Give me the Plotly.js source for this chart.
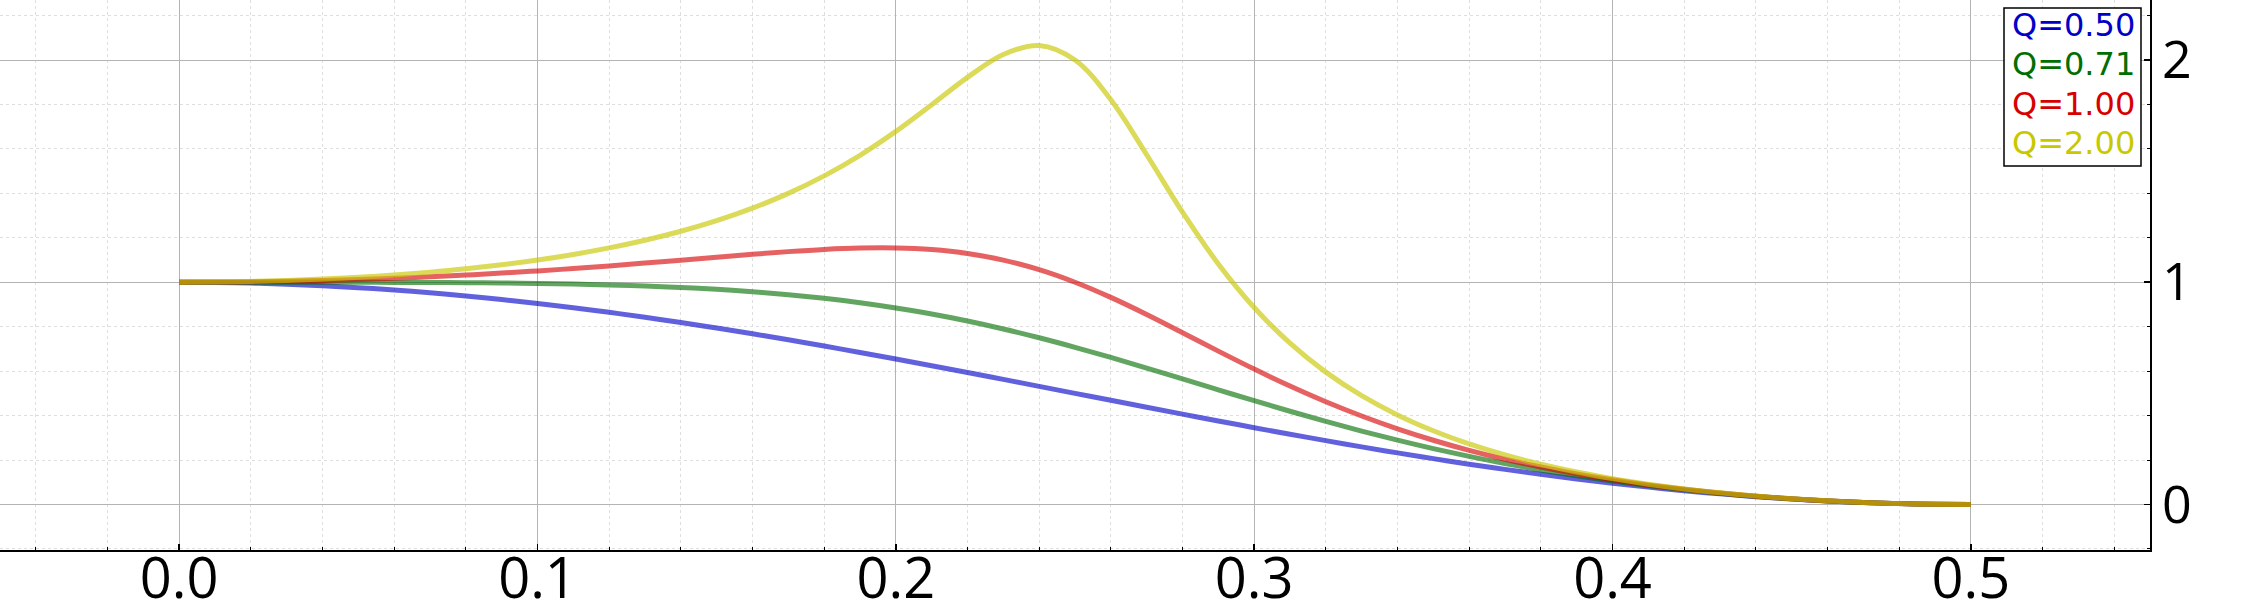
<!DOCTYPE html>
<html>
<head>
<meta charset="utf-8">
<script src="https://cdn.plot.ly/plotly-3.0.1.min.js"></script>
<style>html,body{margin:0;padding:0;background:#fff;}#chart{width:2250px;height:600px;}</style>
</head>
<body>
<div id="chart"></div>
<script>
// normalized frequency (fraction of sample rate)
const freq = [0,0.01,0.02,0.03,0.04,0.05,0.06,0.07,0.08,0.09,0.10,0.11,0.12,0.13,0.14,0.15,0.16,0.17,0.18,0.19,0.20,0.21,0.22,0.23,0.24,0.25,0.26,0.27,0.28,0.29,0.30,0.31,0.32,0.33,0.34,0.35,0.36,0.37,0.38,0.39,0.40,0.41,0.42,0.43,0.44,0.45,0.46,0.47,0.48,0.49,0.50];

const magQ050 = [1,0.9990,0.9961,0.9911,0.9843,0.9755,0.9649,0.9524,0.9381,0.9221,0.9045,0.8853,0.8645,0.8423,0.8187,0.7939,0.7679,0.7409,0.7129,0.6841,0.6545,0.6244,0.5937,0.5627,0.5314,0.5000,0.4686,0.4374,0.4063,0.3757,0.3455,0.3159,0.2871,0.2591,0.2321,0.2061,0.1813,0.1577,0.1355,0.1147,0.0955,0.0779,0.0619,0.0476,0.0351,0.0245,0.0157,0.0089,0.0039,0.0010,0];
const magQ071 = [1,1.0000,1.0000,1.0000,0.9999,0.9997,0.9993,0.9988,0.9978,0.9965,0.9945,0.9917,0.9879,0.9829,0.9764,0.9680,0.9573,0.9440,0.9275,0.9078,0.8842,0.8569,0.8253,0.7897,0.7500,0.7071,0.6615,0.6138,0.5648,0.5156,0.4668,0.4193,0.3735,0.3301,0.2894,0.2513,0.2162,0.1841,0.1549,0.1285,0.1050,0.0842,0.0658,0.0499,0.0364,0.0251,0.0160,0.0089,0.0040,0.0010,0];
const magQ100 = [1,1.0005,1.0020,1.0045,1.0080,1.0125,1.0180,1.0246,1.0323,1.0411,1.0509,1.0616,1.0735,1.0861,1.0992,1.1126,1.1257,1.1377,1.1475,1.1536,1.1541,1.1468,1.1294,1.0997,1.0566,1.0000,0.9317,0.8548,0.7729,0.6900,0.6092,0.5328,0.4621,0.3979,0.3402,0.2889,0.2434,0.2034,0.1683,0.1375,0.1109,0.0879,0.0681,0.0512,0.0371,0.0254,0.0161,0.0090,0.0040,0.0010,0];
const magQ200 = [1,1.0009,1.0035,1.0079,1.0141,1.0224,1.0327,1.0454,1.0606,1.0788,1.1000,1.1250,1.1545,1.1890,1.2295,1.2772,1.3334,1.3999,1.4786,1.5712,1.6787,1.7987,1.9220,2.0247,2.0654,2.0000,1.8213,1.5737,1.3154,1.0823,0.8861,0.7257,0.5955,0.4896,0.4030,0.3316,0.2723,0.2227,0.1810,0.1457,0.1161,0.0911,0.0699,0.0522,0.0376,0.0257,0.0162,0.0090,0.0040,0.0010,0];

const seriesLabels = ['Q=0.50','Q=0.71','Q=1.00','Q=2.00'];
const seriesValues = [magQ050, magQ071, magQ100, magQ200];
const lineColors = ['rgba(0,0,200,0.62)','rgba(0,110,0,0.62)','rgba(215,0,0,0.62)','rgba(200,200,0,0.65)'];
const textColors = ['#0000c8','#006e00','#d70000','#c8c800'];

const traces = seriesValues.map((vals, i) => ({
  type: 'scatter', mode: 'lines', name: seriesLabels[i],
  x: freq, y: vals,
  line: {color: lineColors[i], width: 5, shape: 'spline', smoothing: 1},
  showlegend: false, hoverinfo: 'skip'
}));

// plot area geometry (px) used for placing the legend box
const plotW = 2150, plotH = 550;
const boxL = 2004, boxR = 2141, boxT = 8, boxB = 166;
const rowTop = 25, rowStep = 39.3, rowCx = 2073;

const legendAnnotations = seriesLabels.map((t, i) => ({
  xref: 'paper', yref: 'paper',
  x: rowCx / plotW, y: 1 - (rowTop + i * rowStep) / plotH,
  xanchor: 'center', yanchor: 'middle', showarrow: false,
  text: t, font: {family: 'DejaVu Sans', size: 32, color: textColors[i]}
}));

const axisCommon = {
  showgrid: true, gridcolor: '#b4b4b4', gridwidth: 1,
  zeroline: false, showline: true, linecolor: '#000', linewidth: 1.5,
  ticks: 'inside', ticklen: 6, tickwidth: 1.5, tickcolor: '#000',
  tickfont: {family: 'Open Sans', size: 52, color: '#000'},
  fixedrange: true
};

const layout = {
  width: 2250, height: 600,
  margin: {l: 0, r: 100, t: 0, b: 50, pad: 0},
  paper_bgcolor: '#fff', plot_bgcolor: '#fff',
  showlegend: false,
  xaxis: Object.assign({}, axisCommon, {
    range: [-0.05, 0.55], tick0: 0, dtick: 0.1, tickformat: '.1f',
    ticklabelstandoff: -21,
    tickfont: {family: 'Open Sans', size: 56, color: '#000'},
    minor: {tick0: 0, dtick: 0.02, showgrid: true, gridcolor: '#dedede', griddash: 'dot', gridwidth: 1,
            ticks: 'inside', ticklen: 3, tickcolor: '#000', tickwidth: 1}
  }),
  yaxis: Object.assign({}, axisCommon, {
    side: 'right', range: [-0.205, 2.27], tick0: 0, dtick: 1,
    minor: {tick0: 0, dtick: 0.2, showgrid: true, gridcolor: '#dedede', griddash: 'dot', gridwidth: 1,
            ticks: 'inside', ticklen: 3, tickcolor: '#000', tickwidth: 1}
  }),
  shapes: [{
    type: 'rect', xref: 'paper', yref: 'paper', layer: 'above',
    x0: boxL / plotW, x1: boxR / plotW, y0: 1 - boxB / plotH, y1: 1 - boxT / plotH,
    line: {color: '#000', width: 1.5}, fillcolor: '#fff'
  }],
  annotations: legendAnnotations
};

Plotly.newPlot('chart', traces, layout, {staticPlot: true, displayModeBar: false});
</script>
</body>
</html>
